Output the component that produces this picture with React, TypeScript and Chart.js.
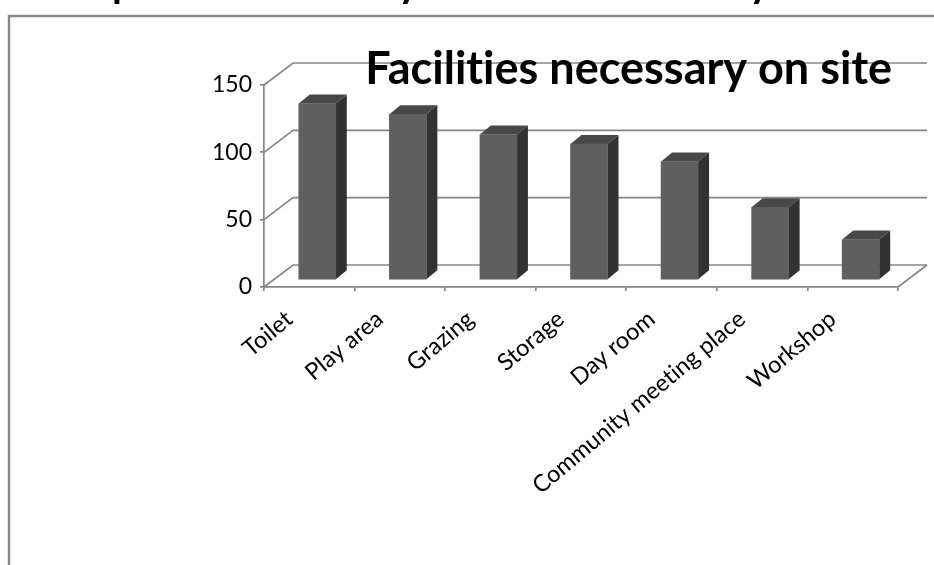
import React, { useEffect, useRef } from "react";
import { Chart, registerables } from "chart.js";

Chart.register(...registerables);

const categories = ["Toilet", "Play area", "Grazing", "Storage", "Day room", "Community meeting place", "Workshop"];
const responses = [131, 123, 108, 101, 88, 54, 30];
const yTicks = [0, 50, 100, 150];
const chartTitle = "Facilities necessary on site";
const clippedGlyphs = ["p", "y", "y"];

const FONT = "Lato, Carlito, sans-serif";
const LINE = "#868686";
const DEPTH_X = 29;
const DEPTH_Y = 22;
const BAR_SHIFT_X = 8;
const BAR_SHIFT_Y = -7;
const BAR_DX = 11;
const BAR_DY = 9;

const wall3d = {
  id: "wall3d",
  beforeDraw(chart: any) {
    const { ctx, scales } = chart;
    ctx.letterSpacing = "0.01px";
    const x0 = scales.x.left;
    const x1 = scales.x.right;
    ctx.save();
    ctx.strokeStyle = LINE;
    ctx.lineWidth = 2.4;
    ctx.beginPath();
    ctx.moveTo(9, 566);
    ctx.lineTo(9, 16);
    ctx.lineTo(936, 16);
    ctx.stroke();
    ctx.fillStyle = "#000";
    ctx.font = `bold 40px ${FONT}`;
    ctx.textBaseline = "alphabetic";
    ctx.fillText(clippedGlyphs[0], 112, -3);
    ctx.fillText(clippedGlyphs[1], 398, -3);
    ctx.fillText(clippedGlyphs[2], 749, -3);
    ctx.strokeStyle = LINE;
    ctx.lineWidth = 1.7;
    for (const v of yTicks) {
      const y = scales.y.getPixelForValue(v);
      ctx.beginPath();
      ctx.moveTo(x0, y);
      ctx.lineTo(x0 + DEPTH_X, y - DEPTH_Y);
      ctx.lineTo(x1 + DEPTH_X, y - DEPTH_Y);
      ctx.stroke();
    }
    const yb = scales.y.getPixelForValue(0);
    ctx.beginPath();
    ctx.moveTo(x1, yb);
    ctx.lineTo(x1 + DEPTH_X, yb - DEPTH_Y);
    ctx.stroke();
    ctx.restore();
  },
};

const bars3d = {
  id: "bars3d",
  beforeDatasetsDraw(chart: any) {
    const { ctx } = chart;
    ctx.save();
    ctx.translate(BAR_SHIFT_X, BAR_SHIFT_Y);
    const meta = chart.getDatasetMeta(0);
    for (const bar of meta.data) {
      const { x, y, base, width } = bar.getProps(["x", "y", "base", "width"], true);
      const l = x - width / 2;
      const r = x + width / 2;
      ctx.fillStyle = "#484848";
      ctx.beginPath();
      ctx.moveTo(l, y);
      ctx.lineTo(l + BAR_DX, y - BAR_DY);
      ctx.lineTo(r + BAR_DX, y - BAR_DY);
      ctx.lineTo(r, y);
      ctx.closePath();
      ctx.fill();
      ctx.fillStyle = "#323232";
      ctx.beginPath();
      ctx.moveTo(r, y);
      ctx.lineTo(r + BAR_DX, y - BAR_DY);
      ctx.lineTo(r + BAR_DX, base - BAR_DY);
      ctx.lineTo(r, base);
      ctx.closePath();
      ctx.fill();
    }
  },
  afterDatasetsDraw(chart: any) {
    chart.ctx.restore();
  },
};

const titleNudge = {
  id: "titleNudge",
  afterLayout(chart: any) {
    chart.titleBlock.right -= 6;
  },
};

export default function App() {
  const ref = useRef<HTMLCanvasElement>(null);
  useEffect(() => {
    const chart = new Chart(ref.current!, {
      type: "bar",
      data: {
        labels: categories,
        datasets: [
          {
            label: "Responses",
            data: responses,
            backgroundColor: "#5f5f5f",
            barThickness: 37,
            clip: false,
          } as any,
        ],
      },
      options: {
        responsive: false,
        animation: false,
        layout: { padding: { top: 49, right: 36, left: 0, bottom: 0 } },
        plugins: {
          legend: { display: false },
          tooltip: { enabled: false },
          title: {
            display: true,
            text: chartTitle,
            color: "#000",
            align: "end",
            fullSize: false,
            font: { family: FONT, size: 45, weight: "bold", lineHeight: 0.9 },
            padding: { top: 0, bottom: -4.5 },
          },
        },
        scales: {
          x: {
            afterFit(s: any) {
              s.height = 278;
            },
            grid: { drawOnChartArea: false, tickLength: 4, color: LINE, lineWidth: 1.7 },
            border: { color: LINE, width: 1.7 },
            ticks: {
              color: "#000",
              font: { family: FONT, size: 23.5 },
              minRotation: 40,
              maxRotation: 40,
              autoSkip: false,
              labelOffset: -20,
              padding: 14,
            },
          },
          y: {
            min: 0,
            max: 150,
            afterFit(s: any) {
              s.width = 264;
            },
            grid: { drawOnChartArea: false, tickLength: 4, color: LINE, lineWidth: 1.7 },
            border: { color: LINE, width: 1.7 },
            ticks: {
              stepSize: 50,
              color: "#000",
              font: { family: FONT, size: 23 },
              padding: 8,
            },
          },
        },
      },
      plugins: [wall3d, bars3d, titleNudge],
    } as any);
    return () => chart.destroy();
  }, []);
  return (
    <canvas
      ref={ref}
      width={934}
      height={565}
      style={{ position: "fixed", left: 0, top: 0, width: 934, height: 565, display: "block" }}
    />
  );
}
